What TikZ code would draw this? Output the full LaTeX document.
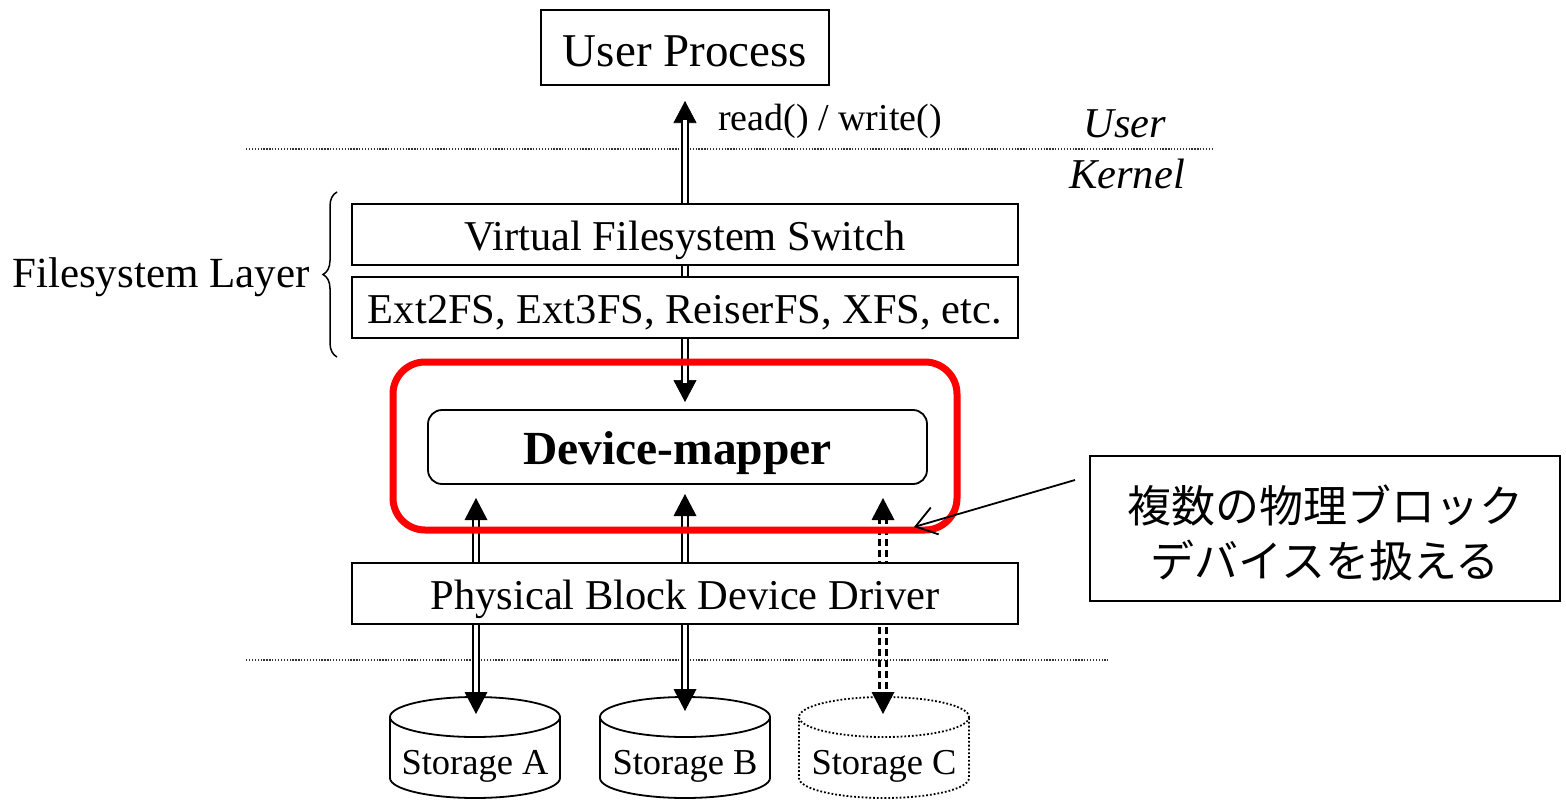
\documentclass[tikz,border=0pt]{standalone}
\usepackage{fontspec}
\setmainfont{Liberation Serif}
\newfontfamily\jpfont{Noto Sans CJK JP}
\usetikzlibrary{arrows.meta,decorations.pathreplacing,calc}
\tikzset{
  box/.style={draw, line width=1.8pt, fill=white, inner sep=0pt,
    minimum width=666pt, minimum height=61pt, font=\fontsize{42.5}{48}\selectfont,
    text height=41pt, text depth=9pt},
  tipline/.style={line width=0.6pt,
    {Triangle[length=22pt,width=23pt]}-{Triangle[length=22pt,width=23pt]}},
  dbl/.style={double, double distance=4.5pt, line width=2pt,
    shorten <=19pt, shorten >=19pt},
  dbldash/.style={line width=2.2pt, dash pattern=on 7pt off 4pt},
  sep/.style={line width=1.1pt, dash pattern=on 1.3pt off 1.6pt, black!80},
  lbl/.style={inner sep=0pt, font=\fontsize{43}{48}\selectfont},
  storetxt/.style={inner sep=0pt, font=\fontsize{36.5}{40}\selectfont,
    text height=33pt, text depth=8pt},
}
\begin{document}
\begin{tikzpicture}[x=1pt,y=-1pt]
\useasboundingbox (0,0) rectangle (1566,800);

% coordinates for the connectors
\coordinate (t1) at (685,101);
\coordinate (b1) at (685,402);
\coordinate (ua) at (476,498);
\coordinate (da) at (476,714);
\coordinate (ub) at (685,494);
\coordinate (db) at (685,711);
\coordinate (uc) at (883,498);
\coordinate (dc) at (883,714);

% separators
\draw[sep] (246,149) -- (1213,149);
\draw[sep] (246,660) -- (1108,660);

% main vertical double arrow
\draw[tipline] (t1) -- (b1);
\draw[dbl] (t1) -- (b1);

% lower arrows
\draw[dbl] (ua) -- (da);
\draw[dbl] (ub) -- (db);
\draw[dbldash] ($(uc)+(-3.5,19)$) -- ($(dc)+(-3.5,-19)$);
\draw[dbldash] ($(uc)+(3.5,19)$) -- ($(dc)+(3.5,-19)$);

% boxes
\node[draw, line width=1.8pt, fill=white, minimum width=288pt, minimum height=75pt,
  inner sep=0pt, font=\fontsize{47}{52}\selectfont, text height=38pt, text depth=0pt]
  (up) at (685,47.5) {User Process};
\node[inner sep=0pt, anchor=west, font=\fontsize{38}{42}\selectfont] (rw) at (718,121.5) {read() / write()};
\node[lbl, font=\fontsize{42.5}{48}\selectfont\itshape] (user) at (1125,124) {User};
\node[lbl, font=\fontsize{42.5}{48}\selectfont\itshape] (kernel) at (1127,174) {Kernel};

\node[box] (vfs) at (685,234.5) {Virtual Filesystem Switch};
\node[box] (ext) at (685,307.5) {Ext2FS, Ext3FS, ReiserFS, XFS, etc.};
\draw[line width=1.5pt, decorate, decoration={brace, amplitude=14pt}]
  (337,357) -- (337,192);
\node[lbl, text height=37pt, text depth=9pt] (fsl) at (161,273) {Filesystem Layer};

\node[draw, line width=1.8pt, fill=white, rounded corners=14pt, minimum width=499pt,
  minimum height=74pt, inner sep=0pt, font=\fontsize{47.5}{52}\selectfont\bfseries,
  text height=44pt, text depth=10pt]
  (dm) at (677.5,447) {Device-mapper};
\node[draw=red, line width=7pt, rounded corners=32pt, minimum width=564pt,
  minimum height=168pt, inner sep=0pt] (red) at (675,446) {};

\node[box] (pbdd) at (685,593.5) {Physical Block Device Driver};

% storages
\foreach \n/\cx/\st in {A/475/solid, B/685/solid, C/884/dotted}{
  \draw[line width=1.8pt, \st, fill=white]
    (\cx-85,717) -- (\cx-85,778) arc[start angle=180, end angle=0, x radius=85, y radius=20]
    -- (\cx+85,717);
  \draw[line width=1.8pt, \st, fill=white] (\cx,717) ellipse[x radius=85, y radius=20];
  \node[storetxt] (s\n) at (\cx,762) {Storage \n};
}
% arrowheads
\fill[black] (da) -- ++(-11.5,-22) -- ++(23,0) -- cycle;
\fill[black] (db) -- ++(-11.5,-22) -- ++(23,0) -- cycle;
\fill[black] (dc) -- ++(-11.5,-22) -- ++(23,0) -- cycle;
\fill[black] (ua) -- ++(-11.5,22) -- ++(23,0) -- cycle;
\fill[black] (ub) -- ++(-11.5,22) -- ++(23,0) -- cycle;
\fill[black] (uc) -- ++(-11.5,22) -- ++(23,0) -- cycle;

% callout
\node[draw, line width=1.8pt, minimum width=470pt, minimum height=145pt, inner sep=0pt]
  (call) at (1325,528.5) {};
\node[inner sep=0pt, align=center, font=\fontsize{44}{55}\selectfont\jpfont]
  (calltxt) at ($(call.center)+(0,4)$) {複数の物理ブロック\\デバイスを扱える};
\coordinate (ct) at (1075,480);
\coordinate (ch) at (914,527);
\draw[line width=1.8pt, -{Straight Barb[length=20pt,width=28pt]}] (ct) -- (ch);
\end{tikzpicture}
\end{document}
